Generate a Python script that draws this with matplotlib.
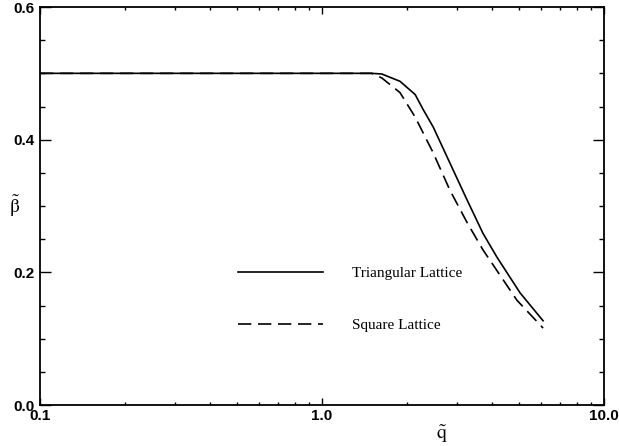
import matplotlib
matplotlib.use("Agg")
import matplotlib.pyplot as plt
from matplotlib.font_manager import FontProperties
from matplotlib.ticker import FixedLocator, NullFormatter, LogLocator

# Curve data
q_tri = [0.1, 1.5, 1.63, 1.89, 2.14, 2.28, 2.48, 2.84, 3.27, 3.72, 4.17, 5.04, 6.08]
beta_tri = [0.5, 0.5, 0.499, 0.488, 0.468, 0.446, 0.419, 0.365, 0.309, 0.259, 0.223, 0.169, 0.127]

q_sq = [0.1, 1.5, 1.63, 1.89, 2.14, 2.48, 2.84, 3.27, 3.72, 4.91, 6.08]
beta_sq = [0.5, 0.5, 0.493, 0.471, 0.434, 0.380, 0.324, 0.275, 0.234, 0.158, 0.116]

labels = ["Triangular Lattice", "Square Lattice"]
x_ticks = [0.1, 1.0, 10.0]
x_ticklabels = ["0.1", "1.0", "10.0"]
y_ticks = [0.0, 0.2, 0.4, 0.6]
y_ticklabels = ["0.0", "0.2", "0.4", "0.6"]

plt.rcParams["mathtext.fontset"] = "stix"

fig = plt.figure(figsize=(6.19, 4.46), dpi=100)
ax = fig.add_axes([0.0646, 0.0919, 0.9112, 0.8924])

ax.plot(q_tri, beta_tri, color="black", lw=1.2, label=labels[0])
ax.plot(q_sq, beta_sq, color="black", lw=1.2, dashes=(8, 4), label=labels[1])

ax.set_xscale("log")
ax.set_xlim(0.1, 10.0)
ax.set_ylim(0.0, 0.6)

ax.xaxis.set_major_locator(FixedLocator(x_ticks))
ax.xaxis.set_minor_locator(LogLocator(base=10, subs=range(2, 10)))
ax.xaxis.set_minor_formatter(NullFormatter())
ax.set_xticklabels(x_ticklabels)
ax.set_yticks(y_ticks)
ax.set_yticklabels(y_ticklabels)
ax.yaxis.set_minor_locator(FixedLocator([i * 0.05 for i in range(13)]))

tick_font = FontProperties(family="Liberation Sans", weight="bold", size=11)
for t in ax.get_xticklabels() + ax.get_yticklabels():
    t.set_fontproperties(tick_font)

ax.tick_params(axis="both", which="both", direction="in", top=True, right=True)
ax.tick_params(axis="y", which="major", length=8, width=1, pad=4)
ax.tick_params(axis="y", which="minor", length=3.5, width=1)
ax.tick_params(axis="x", which="major", length=5, width=1, pad=3)
ax.tick_params(axis="x", which="minor", length=2.5, width=1)

for sp in ax.spines.values():
    sp.set_linewidth(1.3)

ax.text(-0.045, 0.5, r"$\tilde{\mathrm{\beta}}$", transform=ax.transAxes,
        ha="center", va="center", fontsize=14)
ax.text(0.713, -0.073, r"$\tilde{\mathrm{q}}$", transform=ax.transAxes,
        ha="center", va="center", fontsize=14)

ax.legend(loc="center left", bbox_to_anchor=(0.351, 0.265), frameon=False,
          handlelength=5.55, handletextpad=1.9, labelspacing=2.5,
          borderpad=0, borderaxespad=0,
          prop=dict(family="Liberation Serif", size=11))

fig.savefig("out.png", dpi=100)
